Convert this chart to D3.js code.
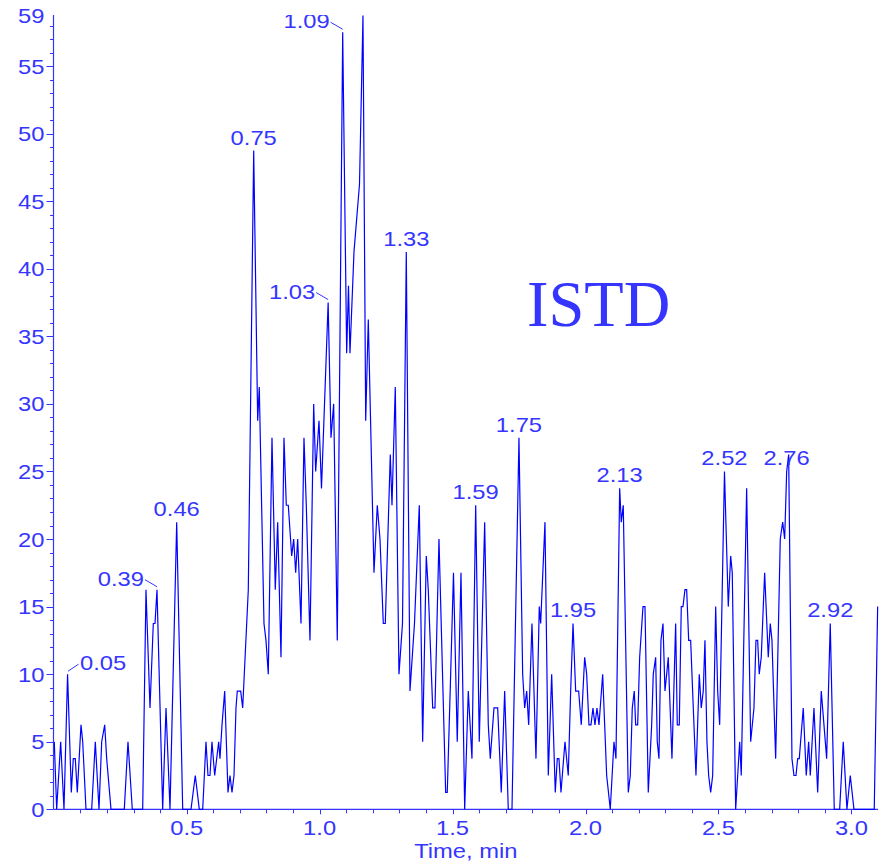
<!DOCTYPE html>
<html>
<head>
<meta charset="utf-8">
<script src="https://cdn.jsdelivr.net/npm/d3@7"></script>
<style>
  html, body { margin: 0; padding: 0; background: #ffffff; }
  svg { display: block; }
</style>
</head>
<body>
<svg id="chart" width="883" height="866"></svg>
<script>
// Retention time (min) of each scan in the ISTD trace
const times = [0.002, 0.011, 0.026, 0.0385, 0.052, 0.066, 0.0735, 0.081, 0.0886, 0.1025, 0.1089, 0.1213, 0.1427, 0.1563, 0.1702, 0.1803, 0.1916, 0.1991, 0.2153, 0.2653, 0.2792, 0.2954, 0.3345, 0.3469, 0.362, 0.3744, 0.3808, 0.3883, 0.4097, 0.4222, 0.4372, 0.4624, 0.485, 0.5162, 0.5323, 0.5474, 0.5602, 0.5726, 0.5801, 0.5876, 0.5951, 0.6053, 0.6128, 0.6203, 0.6252, 0.6328, 0.6429, 0.6553, 0.6628, 0.6704, 0.6779, 0.6854, 0.6903, 0.7031, 0.7106, 0.7317, 0.752, 0.767, 0.773, 0.7907, 0.7982, 0.8069, 0.8208, 0.8332, 0.8422, 0.8546, 0.8659, 0.8746, 0.8821, 0.8949, 0.9024, 0.9099, 0.9174, 0.9299, 0.9411, 0.9498, 0.9637, 0.9776, 0.9851, 0.9976, 1.007, 1.032, 1.0427, 1.0528, 1.0664, 1.0867, 1.1017, 1.1085, 1.1141, 1.1292, 1.1499, 1.163, 1.1732, 1.183, 1.2044, 1.2168, 1.227, 1.2394, 1.2469, 1.2657, 1.2721, 1.2845, 1.2984, 1.3116, 1.3259, 1.3398, 1.3567, 1.3748, 1.3875, 1.4011, 1.4086, 1.4252, 1.4338, 1.4488, 1.474, 1.48, 1.4928, 1.5034, 1.5176, 1.5316, 1.5455, 1.559, 1.5729, 1.5869, 1.6004, 1.6207, 1.6343, 1.6418, 1.6557, 1.6696, 1.6831, 1.6959, 1.7095, 1.7234, 1.7497, 1.7636, 1.7711, 1.7787, 1.7862, 1.7986, 1.8136, 1.8261, 1.8313, 1.8475, 1.86, 1.8727, 1.8862, 1.8938, 1.9001, 1.9077, 1.9227, 1.9351, 1.9441, 1.953, 1.9629, 1.9742, 1.984, 1.9968, 2.0043, 2.0129, 2.0205, 2.028, 2.0355, 2.043, 2.0506, 2.0645, 2.0795, 2.0931, 2.107, 2.1145, 2.1284, 2.1344, 2.1419, 2.1608, 2.1683, 2.1758, 2.1833, 2.1886, 2.1961, 2.2036, 2.2161, 2.2236, 2.236, 2.2488, 2.2548, 2.2638, 2.2698, 2.2762, 2.2837, 2.2913, 2.2988, 2.3052, 2.3112, 2.3251, 2.339, 2.3451, 2.3526, 2.3601, 2.3665, 2.374, 2.3804, 2.3879, 2.3954, 2.4078, 2.4154, 2.4278, 2.4353, 2.4428, 2.4492, 2.4567, 2.4631, 2.4707, 2.4782, 2.4895, 2.497, 2.5045, 2.5226, 2.5369, 2.5459, 2.5519, 2.5647, 2.5798, 2.5857, 2.606, 2.6211, 2.6335, 2.641, 2.6474, 2.6534, 2.6609, 2.6737, 2.6873, 2.6948, 2.7012, 2.7151, 2.7324, 2.7415, 2.749, 2.7565, 2.764, 2.7764, 2.7839, 2.7915, 2.7979, 2.8039, 2.8189, 2.8302, 2.8392, 2.8453, 2.8592, 2.8731, 2.8866, 2.9069, 2.9204, 2.9355, 2.9558, 2.9693, 2.9832, 2.9957, 3.0096, 3.0859, 3.0987];

// Intensity (cps) at each scan
const intensity = [5, 0, 5, 0, 10, 1.25, 3.75, 3.75, 1.25, 6.25, 5, 0, 0, 5, 0, 5, 6.25, 3.75, 0, 0, 5, 0, 0, 16.25, 7.5, 13.75, 13.75, 16.25, 0, 7.5, 0, 21.25, 0, 0, 2.5, 0, 0, 5, 2.5, 2.5, 5, 2.5, 3.75, 5, 3.75, 6.25, 8.75, 1.25, 2.5, 1.25, 2.5, 7.5, 8.75, 8.75, 7.5, 16.25, 48.75, 28.75, 31.25, 13.75, 12.5, 10, 27.5, 16.25, 21.25, 11.25, 27.5, 22.5, 22.5, 18.75, 20, 17.5, 20, 13.75, 27.5, 22.5, 12.5, 30, 25, 28.75, 23.75, 37.5, 27.5, 30, 12.5, 57.5, 33.75, 38.75, 33.75, 41.25, 46.25, 58.75, 28.75, 36.25, 17.5, 22.5, 20, 13.75, 13.75, 26.25, 22.5, 31.25, 10, 13.75, 41.25, 8.75, 13.75, 22.5, 5, 18.75, 16.25, 7.5, 7.5, 20, 1.25, 1.25, 10, 17.5, 5, 17.5, 0, 8.75, 3.75, 22.5, 5, 21.25, 6.25, 3.75, 7.5, 7.5, 1.25, 8.75, 0, 0, 27.5, 10, 7.5, 8.75, 6.25, 13.75, 3.75, 15, 13.75, 21.25, 2.5, 10, 1.25, 3.75, 3.75, 1.25, 5, 2.5, 8.75, 13.75, 8.75, 8.75, 6.25, 11.25, 10, 6.25, 6.25, 7.5, 6.25, 7.5, 6.25, 10, 2.5, 0, 5, 3.75, 23.75, 21.25, 22.5, 1.25, 2.5, 7.5, 8.75, 6.25, 6.25, 11.25, 15, 15, 1.25, 6.25, 10, 11.25, 5, 3.75, 12.5, 13.75, 8.75, 10, 11.25, 3.75, 13.75, 6.25, 6.25, 15, 15, 16.25, 16.25, 12.5, 12.5, 6.25, 2.5, 10, 7.5, 8.75, 12.5, 5, 2.5, 1.25, 2.5, 15, 8.75, 6.25, 25, 15, 18.75, 17.5, 0, 5, 2.5, 23.75, 5, 7.5, 12.5, 12.5, 10, 11.25, 17.5, 11.25, 13.75, 12.5, 3.75, 20, 21.25, 20, 25, 26.25, 3.75, 2.5, 2.5, 3.75, 3.75, 7.5, 2.5, 5, 2.5, 7.5, 1.25, 8.75, 3.75, 13.75, 0, 0, 5, 0, 2.5, 0, 0, 15];

// Apex retention times that carry a label
const peakLabels = [0.05, 0.39, 0.46, 0.75, 1.03, 1.09, 1.33, 1.59, 1.75, 1.95, 2.13, 2.52, 2.76, 2.92];

// Axis tick labels
const xTickLabels = [0.5, 1.0, 1.5, 2.0, 2.5, 3.0];
const yTickLabels = [0, 5, 10, 15, 20, 25, 30, 35, 40, 45, 50, 55];
const yMaxLabel = 59;
const xTitle = "Time, min";
const traceName = "ISTD";

// ---------------------------------------------------------------------------
const data = times.map((t, i) => ({ t, v: intensity[i] }));

const svg = d3.select("#chart");
const blue = "#3535ff";
const lineBlue = "#0000ff";
const fontSans = "'Liberation Sans', Arial, sans-serif";
const fontSize = 21;
const stretchK = 1.13;   // the labels are drawn slightly wide

const plot = { left: 53.5, right: 878, top: 15, bottom: 809.3 };

const x = d3.scaleLinear().domain([0, 3.1]).range([53.75, plot.right]);
const y = d3.scaleLinear().domain([0, 58.78]).range([plot.bottom, plot.top]);

function stretch(sel) {
  sel.each(function () {
    const w = this.getComputedTextLength();
    this.setAttribute("textLength", (w * stretchK).toFixed(2));
    this.setAttribute("lengthAdjust", "spacingAndGlyphs");
  });
}

// clip region for the trace and its labels
svg.append("defs").append("clipPath").attr("id", "plotClip")
  .append("rect")
  .attr("x", plot.left).attr("y", plot.top)
  .attr("width", 883 - plot.left).attr("height", plot.bottom - plot.top + 2);

// ---- y axis -------------------------------------------------------------
const yAxis = svg.append("g").attr("class", "y-axis");
yAxis.append("line")
  .attr("x1", plot.left).attr("x2", plot.left)
  .attr("y1", plot.top).attr("y2", plot.bottom)
  .attr("stroke", blue).attr("stroke-width", 1.2);

const yMinor = d3.range(0, 59, 1);
yAxis.selectAll("line.tick").data(yMinor).join("line")
  .attr("class", "tick")
  .attr("x1", d => plot.left - (d % 5 === 0 ? 7 : 3.5))
  .attr("x2", plot.left)
  .attr("y1", d => Math.round(y(d)) + 0.5)
  .attr("y2", d => Math.round(y(d)) + 0.5)
  .attr("stroke", blue).attr("stroke-width", 1);

yAxis.selectAll("text.lab").data(yTickLabels).join("text")
  .attr("class", "lab")
  .attr("x", 44.5)
  .attr("y", d => y(d) + 7.5)
  .attr("text-anchor", "end")
  .attr("font-family", fontSans).attr("font-size", fontSize)
  .attr("fill", blue)
  .text(d => d)
  .call(stretch);

yAxis.append("text")
  .attr("x", 44.5).attr("y", plot.top + 8)
  .attr("text-anchor", "end")
  .attr("font-family", fontSans).attr("font-size", fontSize)
  .attr("fill", blue)
  .text(yMaxLabel)
  .call(stretch);

// ---- x axis -------------------------------------------------------------
const xAxis = svg.append("g").attr("class", "x-axis");
xAxis.append("line")
  .attr("x1", plot.left).attr("x2", plot.right)
  .attr("y1", plot.bottom).attr("y2", plot.bottom)
  .attr("stroke", blue).attr("stroke-width", 1.2);

const xMinor = d3.range(1, 31).map(d => d / 10);
xAxis.selectAll("line.tick").data(xMinor).join("line")
  .attr("class", "tick")
  .attr("x1", d => Math.round(x(d)) + 0.5)
  .attr("x2", d => Math.round(x(d)) + 0.5)
  .attr("y1", plot.bottom)
  .attr("y2", d => plot.bottom + (Math.abs(d * 2 - Math.round(d * 2)) < 1e-6 ? 5 : 4))
  .attr("stroke", blue).attr("stroke-width", 1);

xAxis.selectAll("text.lab").data(xTickLabels).join("text")
  .attr("class", "lab")
  .attr("x", d => x(d))
  .attr("y", 834.5)
  .attr("text-anchor", "middle")
  .attr("font-family", fontSans).attr("font-size", fontSize)
  .attr("fill", blue)
  .text(d => d3.format(".1f")(d))
  .call(stretch);

svg.append("text")
  .attr("x", (x.range()[0] + x.range()[1]) / 2)
  .attr("y", 858)
  .attr("text-anchor", "middle")
  .attr("font-family", fontSans).attr("font-size", fontSize)
  .attr("fill", blue)
  .text(xTitle)
  .call(stretch);

// ---- trace --------------------------------------------------------------
const line = d3.line().x(d => x(d.t)).y(d => y(d.v));
svg.append("path")
  .datum(data)
  .attr("clip-path", "url(#plotClip)")
  .attr("fill", "none")
  .attr("stroke", lineBlue)
  .attr("stroke-width", 1.2)
  .attr("stroke-linejoin", "miter")
  .attr("d", line);

// ---- apex labels ----------------------------------------------------------
// labels that would collide sit beside the apex with a short leader
const placement = { "0.05": "right", "0.39": "left", "1.03": "left", "1.09": "left" };
const fmt = d3.format(".2f");
const labelG = svg.append("g").attr("clip-path", "url(#plotClip)");

peakLabels.forEach(pt => {
  const p = d3.least(data, d => Math.abs(d.t - pt));
  const px = x(p.t), py = y(p.v);
  const side = placement[fmt(pt)];
  const txt = labelG.append("text")
    .attr("font-family", fontSans).attr("font-size", fontSize)
    .attr("fill", blue)
    .text(fmt(p.t));
  if (side === "left") {
    txt.attr("x", px - 13).attr("y", py - 4).attr("text-anchor", "end");
    labelG.append("line")
      .attr("x1", px - 12).attr("y1", py - 10)
      .attr("x2", px).attr("y2", py - 3)
      .attr("stroke", blue).attr("stroke-width", 1);
  } else if (side === "right") {
    txt.attr("x", px + 12.5).attr("y", py - 4).attr("text-anchor", "start");
    labelG.append("line")
      .attr("x1", px + 0.5).attr("y1", py - 3)
      .attr("x2", px + 11).attr("y2", py - 10)
      .attr("stroke", blue).attr("stroke-width", 1);
  } else {
    txt.attr("x", px).attr("y", py - 6).attr("text-anchor", "middle");
  }
  txt.call(stretch);
});

// ---- trace name -----------------------------------------------------------
svg.append("text")
  .attr("x", 527).attr("y", 326)
  .attr("font-family", "'Liberation Serif', 'Times New Roman', serif")
  .attr("font-size", 64.5)
  .attr("fill", blue)
  .text(traceName);
</script>
</body>
</html>
